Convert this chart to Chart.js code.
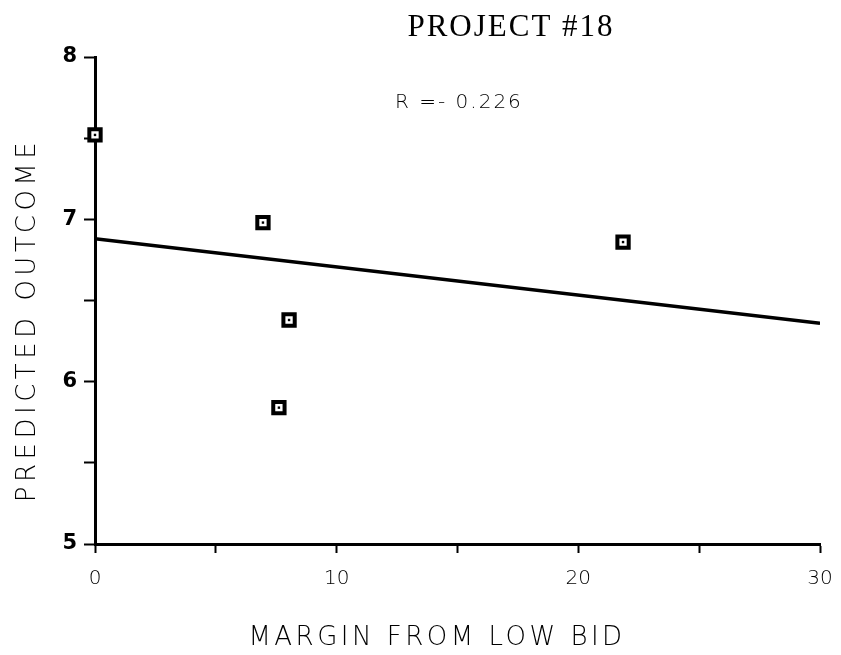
<!DOCTYPE html>
<html>
<head>
<meta charset="utf-8">
<script src="https://cdn.jsdelivr.net/npm/chart.js@4/dist/chart.umd.min.js"></script>
<style>
  html, body { margin: 0; background: #fff; }
  #wrap { width: 841px; height: 655px; }
</style>
</head>
<body>
<div id="wrap"><canvas id="chart"></canvas></div>
<script>
// valori
const margin = [0, 6.95, 8.03, 7.61, 21.85];
const outcome = [7.52, 6.98, 6.38, 5.84, 6.86];
const fitX = [0, 30];
const fitY = [6.88, 6.36];
const xTicks = [0, 10, 20, 30];
const yTicks = [5, 6, 7, 8];
const chartTitle = 'PROJECT #18';
const rLabel = 'R =- 0.226';
const xTitle = 'MARGIN FROM LOW BID';
const yTitle = 'PREDICTED OUTCOME';

const points = margin.map((x, i) => ({ x: x, y: outcome[i] }));
const fitLine = fitX.map((x, i) => ({ x: x, y: fitY[i] }));

const thinFont = '"DejaVu Sans", sans-serif';

// titolo, valore di R e titoli degli assi (con spaziatura delle lettere)
const textPlugin = {
    id: 'texts',
    afterDraw(chart) {
        const c = chart.ctx;
        c.save();
        c.fillStyle = '#000';
        c.textBaseline = 'alphabetic';

        c.textAlign = 'center';
        c.letterSpacing = '2px';
        c.font = '31px "Liberation Serif", serif';
        c.fillText(chartTitle, 511, 36);

        c.textAlign = 'left';
        c.letterSpacing = '2px';
        c.font = '200 20px ' + thinFont;
        c.fillText(rLabel, 395, 108);

        c.textAlign = 'center';
        c.letterSpacing = '3.5px';
        c.font = '200 26px ' + thinFont;
        c.fillText(xTitle, 437, 645);

        c.translate(35, 322);
        c.rotate(-Math.PI / 2);
        c.letterSpacing = '4.5px';
        c.fillText(yTitle, 2, 0);
        c.restore();
    }
};

const ctx = document.getElementById('chart').getContext('2d');
const chart = new Chart(ctx, {
    type: 'scatter',
    data: {
        datasets: [{
            // punto centrale del marker
            data: points,
            pointStyle: 'rect',
            pointRadius: 1.7,
            backgroundColor: '#000',
            borderWidth: 0,
            clip: false
        }, {
            data: points,
            pointStyle: 'rect',
            pointRadius: 8,
            backgroundColor: '#fff',
            borderColor: '#000',
            borderWidth: 4,
            clip: false
        }, {
            type: 'line',
            data: fitLine,
            borderColor: '#000',
            borderWidth: 3.5,
            pointRadius: 0,
            fill: false
        }]
    },
    options: {
        responsive: true,
        maintainAspectRatio: false,
        animation: false,
        layout: { padding: { top: 57, right: 0, left: 0, bottom: 0 } },
        plugins: {
            legend: { display: false },
            tooltip: { enabled: false }
        },
        scales: {
            x: {
                type: 'linear',
                min: 0,
                max: 30,
                afterFit: s => {
                    s.height = 111;
                    s.paddingLeft = 0;
                    s.paddingRight = 21;
                },
                border: { display: true, color: '#000', width: 3 },
                grid: { drawOnChartArea: false, color: '#000', tickLength: 9, tickWidth: 2 },
                ticks: {
                    stepSize: 5,
                    padding: 14,
                    color: '#000',
                    font: { family: thinFont, size: 20, weight: 200 },
                    callback: v => xTicks.includes(v) ? v : ''
                }
            },
            y: {
                min: 5,
                max: 8,
                afterFit: s => { s.width = 95; },
                border: { display: true, color: '#000', width: 3 },
                grid: { drawOnChartArea: false, color: '#000', tickLength: 11, tickWidth: 2 },
                ticks: {
                    stepSize: 0.5,
                    padding: 7,
                    color: '#000',
                    font: { family: thinFont, size: 21, weight: 'bold' },
                    callback: v => yTicks.includes(v) ? v : ''
                }
            }
        }
    },
    plugins: [textPlugin]
});
</script>
</body>
</html>
